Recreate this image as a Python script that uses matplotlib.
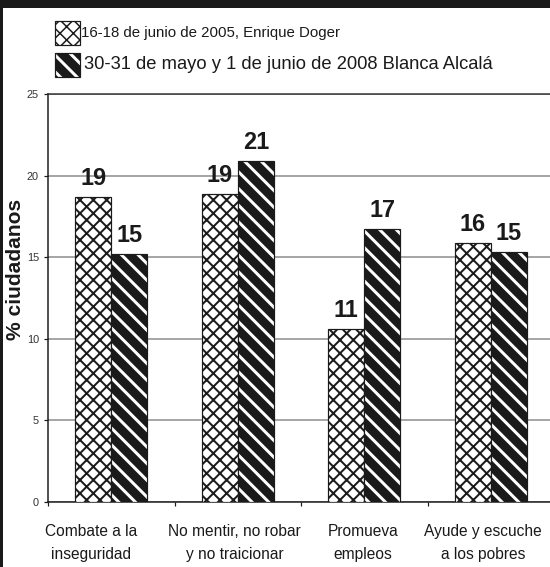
import matplotlib
matplotlib.use('Agg')
import matplotlib.pyplot as plt
from matplotlib.patches import Rectangle
from matplotlib.transforms import ScaledTranslation
import numpy as np

# --- data ---
categories = ['Combate a la\ninseguridad', 'No mentir, no robar\ny no traicionar',
              'Promueva\nempleos', 'Ayude y escuche\na los pobres']
doger_2005 = [18.7, 18.85, 10.6, 15.9]
alcala_2008 = [15.2, 20.9, 16.7, 15.3]
series_names = ['16-18 de junio de 2005, Enrique Doger',
                '30-31 de mayo y 1 de junio de 2008 Blanca Alcalá']
yticks = [0, 5, 10, 15, 20, 25]

# dpi 200 so the hatch spacing comes out close to the original
DPI = 200
W, H = 550, 567


def pt(px):
    # pixel size -> points at this dpi
    return px * 72.0 / DPI


FONT = ['Liberation Sans', 'DejaVu Sans']
INK = '#1a1a1a'
CROSS = 'xxxxx'
STRIPE = '\\' * 4


def set_hatch_lw(patches, px):
    for p in patches:
        if hasattr(p, 'set_hatch_linewidth'):
            p.set_hatch_linewidth(pt(px))


fig = plt.figure(figsize=(W / DPI, H / DPI), dpi=DPI)
ax = fig.add_axes([48 / W, 1 - 502 / H, 506 / W, (502 - 94) / H])

x = np.arange(len(categories))
w = 0.285

with plt.rc_context({'hatch.linewidth': pt(2)}):
    cross = ax.bar(x - w / 2, doger_2005, w, facecolor='white', edgecolor=INK,
                   hatch=CROSS, linewidth=pt(1.2), zorder=3)
with plt.rc_context({'hatch.linewidth': pt(3)}):
    stripe = ax.bar(x + w / 2, alcala_2008, w, facecolor=INK, edgecolor='white',
                    hatch=STRIPE, linewidth=0, zorder=3)
set_hatch_lw(cross, 2)
set_hatch_lw(stripe, 3)
ax.bar(x + w / 2, alcala_2008, w, fill=False, edgecolor=INK, linewidth=pt(1.2), zorder=4)

for bars in (cross, stripe):
    ax.bar_label(bars, fmt='%.0f', padding=pt(7), fontsize=pt(23.5), fontweight='bold',
                 family=FONT, color=INK)

ax.set_xlim(-0.5, 3.5)
ax.set_ylim(0, 25)
ax.set_yticks(yticks)
ax.set_axisbelow(True)
ax.yaxis.grid(True, color='#8a8a8a', linewidth=pt(1.5))

ax.set_xticks([-0.5, 0.5, 1.5, 2.5, 3.5])
ax.set_xticklabels([])
ax.tick_params(axis='x', length=pt(4), width=pt(1.2), color=INK, direction='out')
ax.tick_params(axis='y', length=pt(4), width=pt(1.2), color=INK, pad=pt(5),
               labelsize=pt(11), labelcolor='#333333')
for lbl in ax.get_yticklabels():
    lbl.set_family(FONT)

for side in ('left', 'bottom'):
    ax.spines[side].set_color(INK)
    ax.spines[side].set_linewidth(pt(1.5))
ax.spines['top'].set_color('#333333')
ax.spines['top'].set_linewidth(pt(1.5))
ax.spines['right'].set_visible(False)

# category labels (slightly shifted like in the original)
label_dx = [-20, -3, -1, -8]
for xi, name, dx in zip(x, categories, label_dx):
    off = ScaledTranslation(dx / DPI, -22 / DPI, fig.dpi_scale_trans)
    ax.text(xi, 0, name, transform=ax.get_xaxis_transform() + off,
            ha='center', va='top', fontsize=pt(15.5), family=FONT,
            color=INK, linespacing=1.7)

fig.text(16 / W, 1 - 269 / H, '% ciudadanos', rotation=90, ha='center', va='center',
         fontsize=pt(21), fontweight='bold', family=FONT, color=INK)

# legend drawn by hand at the top
with plt.rc_context({'hatch.linewidth': pt(1.5)}):
    box1 = Rectangle((55 / W, 1 - 45 / H), 25 / W, 24 / H, transform=fig.transFigure,
                     facecolor='white', edgecolor=INK, hatch=CROSS, linewidth=pt(1.2))
with plt.rc_context({'hatch.linewidth': pt(3)}):
    box2 = Rectangle((55 / W, 1 - 77 / H), 25 / W, 24 / H, transform=fig.transFigure,
                     facecolor=INK, edgecolor='white', hatch=STRIPE, linewidth=0)
set_hatch_lw([box1], 1.5)
set_hatch_lw([box2], 3)
for b in (box1, box2):
    fig.add_artist(b)
fig.add_artist(Rectangle((55 / W, 1 - 77 / H), 25 / W, 24 / H, transform=fig.transFigure,
                         fill=False, edgecolor=INK, linewidth=pt(1.2)))
fig.text(81 / W, 1 - 33 / H, series_names[0], ha='left', va='center',
         fontsize=pt(15), family=FONT, color=INK)
fig.text(84 / W, 1 - 65 / H, series_names[1], ha='left', va='center',
         fontsize=pt(18.4), family=FONT, color=INK)

# black frame on the top and left edge
fig.add_artist(Rectangle((0, 1 - 8 / H), 1, 8 / H, transform=fig.transFigure,
                         facecolor=INK, edgecolor='none'))
fig.add_artist(Rectangle((0, 0), 3 / W, 1, transform=fig.transFigure,
                         facecolor=INK, edgecolor='none'))

fig.savefig('out.png', dpi=DPI)
